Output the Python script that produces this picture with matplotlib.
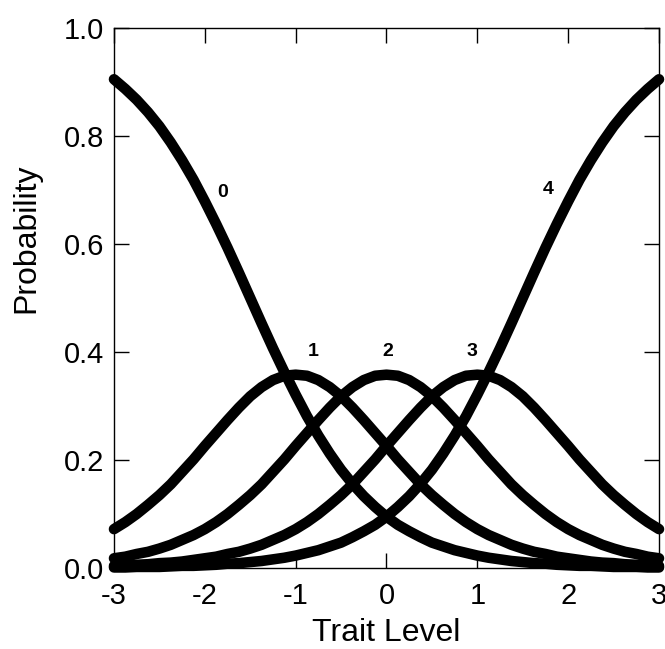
import matplotlib
matplotlib.use('Agg')
import matplotlib.pyplot as plt

plt.rcParams['font.family'] = ['Liberation Sans', 'DejaVu Sans']
plt.rcParams['axes.unicode_minus'] = False

# trait level grid and category response probabilities
trait = [-3.0, -2.875, -2.75, -2.625, -2.5, -2.375, -2.25, -2.125, -2.0, -1.875, -1.75, -1.625,
         -1.5, -1.375, -1.25, -1.125, -1.0, -0.875, -0.75, -0.625, -0.5, -0.375, -0.25, -0.125,
         0.0, 0.125, 0.25, 0.375, 0.5, 0.625, 0.75, 0.875, 1.0, 1.125, 1.25, 1.375,
         1.5, 1.625, 1.75, 1.875, 2.0, 2.125, 2.25, 2.375, 2.5, 2.625, 2.75, 2.875, 3.0]

cat0 = [0.905, 0.887, 0.867, 0.844, 0.818, 0.788, 0.755, 0.719, 0.679, 0.637, 0.593, 0.547,
        0.500, 0.453, 0.407, 0.363, 0.321, 0.281, 0.245, 0.212, 0.182, 0.156, 0.133, 0.113,
        0.095, 0.080, 0.068, 0.057, 0.047, 0.040, 0.033, 0.028, 0.023, 0.019, 0.016, 0.013,
        0.011, 0.009, 0.008, 0.006, 0.005, 0.004, 0.004, 0.003, 0.002, 0.002, 0.002, 0.001, 0.001]
cat1 = [0.072, 0.085, 0.100, 0.117, 0.135, 0.155, 0.178, 0.201, 0.226, 0.250, 0.274, 0.297,
        0.318, 0.335, 0.348, 0.356, 0.358, 0.356, 0.348, 0.335, 0.318, 0.297, 0.274, 0.250,
        0.226, 0.201, 0.178, 0.155, 0.135, 0.117, 0.100, 0.085, 0.072, 0.061, 0.052, 0.043,
        0.036, 0.030, 0.026, 0.021, 0.018, 0.015, 0.012, 0.010, 0.009, 0.007, 0.006, 0.005, 0.004]
cat2 = [0.018, 0.021, 0.026, 0.030, 0.036, 0.043, 0.052, 0.061, 0.072, 0.085, 0.100, 0.117,
        0.135, 0.155, 0.178, 0.201, 0.226, 0.250, 0.274, 0.297, 0.318, 0.335, 0.348, 0.356,
        0.358, 0.356, 0.348, 0.335, 0.318, 0.297, 0.274, 0.250, 0.226, 0.201, 0.178, 0.155,
        0.135, 0.117, 0.100, 0.085, 0.072, 0.061, 0.052, 0.043, 0.036, 0.030, 0.026, 0.021, 0.018]
cat3 = [0.004, 0.005, 0.006, 0.007, 0.009, 0.010, 0.012, 0.015, 0.018, 0.021, 0.026, 0.030,
        0.036, 0.043, 0.052, 0.061, 0.072, 0.085, 0.100, 0.117, 0.135, 0.155, 0.178, 0.201,
        0.226, 0.250, 0.274, 0.297, 0.318, 0.335, 0.348, 0.356, 0.358, 0.356, 0.348, 0.335,
        0.318, 0.297, 0.274, 0.250, 0.226, 0.201, 0.178, 0.155, 0.135, 0.117, 0.100, 0.085, 0.072]
cat4 = [0.001, 0.001, 0.002, 0.002, 0.002, 0.003, 0.004, 0.004, 0.005, 0.006, 0.008, 0.009,
        0.011, 0.013, 0.016, 0.019, 0.023, 0.028, 0.033, 0.040, 0.047, 0.057, 0.068, 0.080,
        0.095, 0.113, 0.133, 0.156, 0.182, 0.212, 0.245, 0.281, 0.321, 0.363, 0.407, 0.453,
        0.500, 0.547, 0.593, 0.637, 0.679, 0.719, 0.755, 0.788, 0.818, 0.844, 0.867, 0.887, 0.905]

curves = [cat0, cat1, cat2, cat3, cat4]
curve_labels = ['0', '1', '2', '3', '4']
label_pos = [(-1.80, 0.696), (-0.81, 0.400), (0.01, 0.400), (0.94, 0.400), (1.78, 0.700)]

fig = plt.figure(figsize=(6.65, 6.49), dpi=100)
ax = fig.add_axes([0.1714, 0.1248, 0.8196, 0.8321])

for vals in curves:
    ax.plot(trait, vals, color='black', lw=7.6, solid_capstyle='round',
            solid_joinstyle='round', clip_on=False)

for lab, (x, y) in zip(curve_labels, label_pos):
    ax.text(x, y, lab, fontsize=14, fontweight='bold', ha='center', va='center')

ax.set_xlim(-3, 3)
ax.set_ylim(0, 1.0)
ax.set_xticks([-3, -2, -1, 0, 1, 2, 3])
ax.set_yticks([0.0, 0.2, 0.4, 0.6, 0.8, 1.0])
ax.set_yticklabels(['0.0', '0.2', '0.4', '0.6', '0.8', '1.0'])
ax.tick_params(direction='in', length=11, width=1.0, top=True, right=True,
               labelsize=21, pad=7)
ax.tick_params(axis='x', pad=10)
for s in ax.spines.values():
    s.set_linewidth(1.0)

ax.set_xlabel('Trait Level', fontsize=23, labelpad=6)
ax.set_ylabel('Probability', fontsize=23)
ax.yaxis.set_label_coords(-0.134, 0.611)

fig.savefig('out.png', dpi=100)
